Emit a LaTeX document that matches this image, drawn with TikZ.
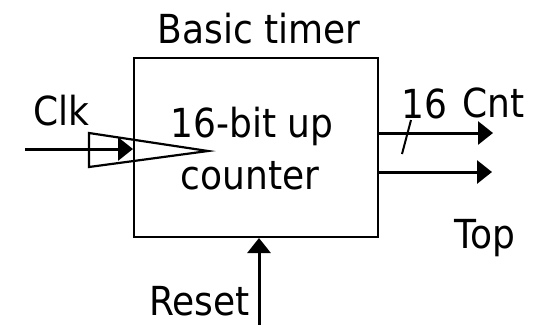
\documentclass[tikz,border=0pt]{standalone}
\usepackage{fontspec}
\setmainfont{DejaVu Sans Condensed}
\usetikzlibrary{arrows.meta}
\tikzset{
  mylabel/.style={inner sep=0pt,font=\fontsize{40}{48}\selectfont},
  mysignal/.style={line width=3pt,-{Triangle[length=15pt,width=23pt]}},
  myblock/.style={draw,line width=2pt,inner sep=0pt}
}

\begin{document}
\begin{tikzpicture}[x=1pt,y=-1pt]
\useasboundingbox (0,0) rectangle (537,325);

% the timer block
\node[myblock,minimum width=244pt,minimum height=179pt] (timer) at (256,147.5) {};
\node[mylabel,anchor=base] (title) at (259,43) {Basic timer};
\node[mylabel,anchor=base] (upper) at (252,137) {16-bit up};
\node[mylabel,anchor=base] (lower) at (250,189) {counter};

% clock input
\draw[line width=2.2pt] (89,133) -- (208,151) -- (89,167) -- cycle;
\coordinate (clkin) at (25,149);
\draw[mysignal] (clkin) -- (timer.west |- clkin);
\node[mylabel,anchor=base] (clk) at (61.5,125) {Clk};

% outputs
\coordinate (cntout) at (493,133);
\coordinate (topout) at (492,172);
\draw[mysignal] (timer.east |- cntout) -- (cntout);
\draw[mysignal] (timer.east |- topout) -- (topout);
\draw[line width=2pt] (402,154) -- (411,120);
\node[mylabel,anchor=base west] (width) at (401,118) {16};
\node[mylabel,anchor=base west] (cnt) at (462,117) {Cnt};
\node[mylabel,anchor=base] (top) at (485,248) {Top};

% reset input
\coordinate (rstin) at (259,325);
\draw[mysignal] (rstin) -- (rstin |- timer.south);
\node[mylabel,anchor=base east] (reset) at (250,315) {Reset};

\end{tikzpicture}
\end{document}
